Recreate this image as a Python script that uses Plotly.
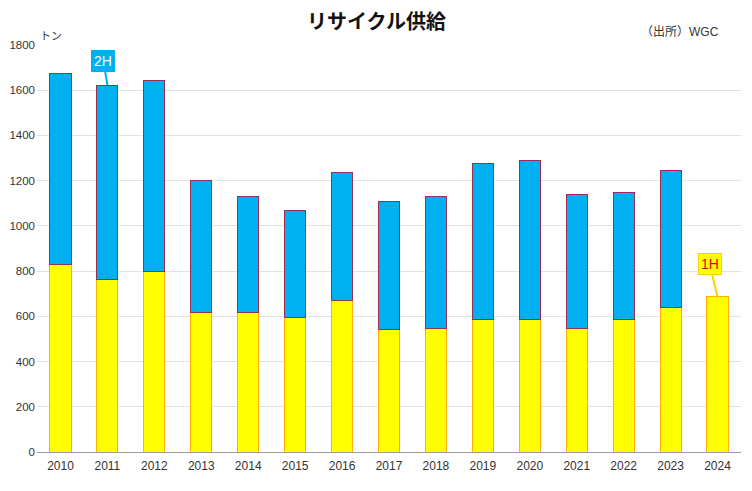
import plotly.graph_objects as go

years = ["2010", "2011", "2012", "2013", "2014", "2015", "2016", "2017",
         "2018", "2019", "2020", "2021", "2022", "2023", "2024"]
first_half = [831, 761, 800, 615, 619, 593, 672, 544, 548, 588, 588, 548, 584, 637, 686]
second_half = [841, 862, 841, 584, 509, 477, 562, 566, 584, 690, 703, 589, 562, 606, None]
y_ticks = [0, 200, 400, 600, 800, 1000, 1200, 1400, 1600, 1800]

FONT = "Liberation Sans, Arial, Noto Sans CJK JP, sans-serif"
BLUE = "#00B0F0"
YELLOW = "#FFFF00"

fig = go.Figure()
fig.add_trace(go.Bar(
    x=years, y=first_half, name="1H",
    marker=dict(color=YELLOW, line=dict(color="#FFB000", width=1)),
))
fig.add_trace(go.Bar(
    x=years, y=second_half, name="2H",
    marker=dict(color=BLUE, line=dict(color="#9A2F55", width=1)),
))

totals = [a + (b or 0) for a, b in zip(first_half, second_half)]
i2h = years.index("2011")
i1h = years.index("2024")

fig.add_annotation(
    x=i2h, y=totals[i2h], xref="x", yref="y",
    text="2H", showarrow=True, arrowhead=0, arrowwidth=2, arrowcolor=BLUE,
    ax=-4, ay=-24, bgcolor=BLUE, bordercolor=BLUE, borderpad=2,
    font=dict(color="white", size=14, family=FONT),
)
fig.add_annotation(
    x=i1h, y=totals[i1h], xref="x", yref="y",
    text="1H", showarrow=True, arrowhead=0, arrowwidth=2, arrowcolor="#FFD000",
    ax=-8, ay=-33, bgcolor=YELLOW, bordercolor="#FFD000", borderpad=2,
    font=dict(color="#E00000", size=14, family=FONT),
)
fig.add_annotation(
    x=0.0, y=1.0, xref="paper", yref="paper", xanchor="left", yanchor="bottom",
    xshift=1, yshift=1,
    text="トン", showarrow=False, font=dict(color="#333333", size=11, family=FONT),
)
fig.add_annotation(
    x=0.972, y=1.0, xref="paper", yref="paper", xanchor="right", yanchor="bottom",
    yshift=4,
    text="（出所）WGC", showarrow=False, font=dict(color="#333333", size=12, family=FONT),
)

fig.update_layout(
    width=752, height=491,
    barmode="stack",
    bargap=0.55,
    showlegend=False,
    plot_bgcolor="white", paper_bgcolor="white",
    margin=dict(l=29, r=19, t=37, b=47),
    title=dict(text="<b>リサイクル供給</b>", x=0.49, xanchor="center", y=0.985, yanchor="top",
               font=dict(size=20, color="#111111", family=FONT)),
    font=dict(family=FONT, color="#333333"),
    xaxis=dict(
        type="category", categoryorder="array", categoryarray=years,
        range=[-0.5, len(years) - 0.5], autorange=False,
        showgrid=False, showline=True, linecolor="#999999", linewidth=1,
        ticks="", tickfont=dict(size=12, color="#333333"),
        automargin=False, ticklabelstandoff=3,
    ),
    yaxis=dict(
        range=[0, 1800], tickvals=y_ticks, showgrid=True, gridcolor="#E3E3E3",
        zeroline=False, ticks="", tickfont=dict(size=11.5, color="#333333"),
        automargin=False, ticklabelstandoff=1,
    ),
)

fig.write_html("out.html")
